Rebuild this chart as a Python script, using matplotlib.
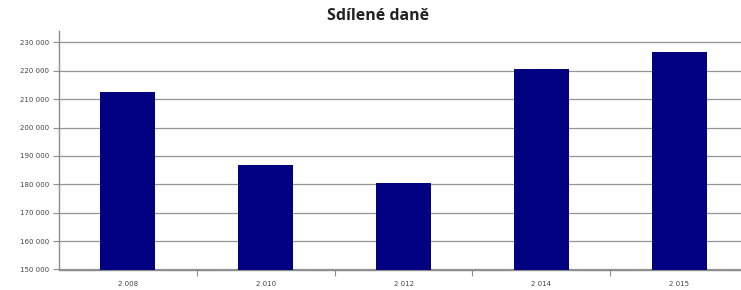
import matplotlib.pyplot as plt
from matplotlib.ticker import FuncFormatter, FixedLocator

years = ["2 008", "2 010", "2 012", "2 014", "2 015"]
values = [212600, 186900, 180600, 220500, 226600]
y_ticks = [150000, 160000, 170000, 180000, 190000, 200000, 210000, 220000, 230000]


def main():
    fig = plt.figure(figsize=(7.41, 2.90), dpi=100)
    ax = fig.add_axes([59 / 741, 1 - 269.5 / 290, 689 / 741, (269.5 - 31) / 290])

    x = range(len(years))
    ax.bar(x, values, width=0.4, color="#000080", zorder=3)

    ax.set_xlim(-0.5, len(years) - 0.5)
    ax.set_ylim(150000, 234000)
    ax.set_yticks(y_ticks)
    ax.yaxis.set_major_formatter(FuncFormatter(lambda v, p: f"{int(v):,}".replace(",", " ")))
    ax.set_xticks(list(x))
    ax.set_xticklabels(years)
    ax.xaxis.set_minor_locator(FixedLocator([i + 0.5 for i in range(len(years) - 1)]))

    ax.grid(axis="y", color="#959595", linewidth=0.9, zorder=0)
    for side in ["top", "right"]:
        ax.spines[side].set_visible(False)
    for side in ["left", "bottom"]:
        ax.spines[side].set_color("#8c8c8c")
        ax.spines[side].set_linewidth(1.0)

    ax.tick_params(axis="y", labelsize=5, colors="#8c8c8c", labelcolor="#444444", length=4, width=0.8, pad=3)
    ax.tick_params(axis="x", which="major", labelsize=5, labelcolor="#444444", length=0, pad=8)
    ax.tick_params(axis="x", which="minor", colors="#8c8c8c", length=4, width=0.8)

    fig.text(0.51, 0.945, "Sdílené daně", ha="center", va="center",
             fontsize=11.5, fontweight="bold", family=["Open Sans", "DejaVu Sans"], color="#222222")

    fig.savefig("out.png", dpi=100)


if __name__ == "__main__":
    main()
